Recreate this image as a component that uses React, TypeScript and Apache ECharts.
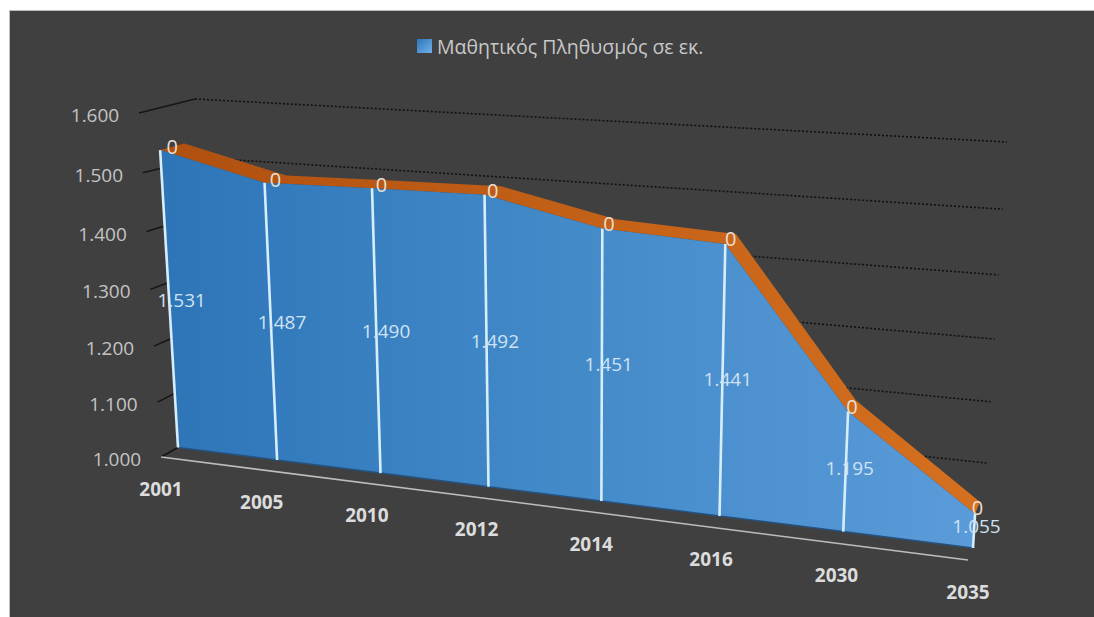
import React, { useEffect, useRef } from "react";
import * as echarts from "echarts";

const years = ["2001", "2005", "2010", "2012", "2014", "2016", "2030", "2035"];
const students = [1531, 1487, 1490, 1492, 1451, 1441, 1195, 1055];
const topSeries = [0, 0, 0, 0, 0, 0, 0, 0];
const yTicks = [1000, 1100, 1200, 1300, 1400, 1500, 1600];
const legendName = "Μαθητικός Πληθυσμός σε εκ.";

const W = 1094;
const H = 617;
const FONT = "'Open Sans', 'Noto Sans', sans-serif";
const GRID = { left: 100, top: 100, width: 800, height: 400 };

type Pt = [number, number];
// corners of each depth plane: bottom-left, bottom-right, top-right, top-left
function homography(q: Pt[]) {
  const [[x0, y0], [x1, y1], [x2, y2], [x3, y3]] = q;
  const dx1 = x1 - x2, dx2 = x3 - x2, sx = x0 - x1 + x2 - x3;
  const dy1 = y1 - y2, dy2 = y3 - y2, sy = y0 - y1 + y2 - y3;
  const den = dx1 * dy2 - dx2 * dy1;
  const g = (sx * dy2 - dx2 * sy) / den;
  const h = (dx1 * sy - sx * dy1) / den;
  const a = x1 - x0 + g * x1, b = x3 - x0 + h * x3;
  const d = y1 - y0 + g * y1, e = y3 - y0 + h * y3;
  return (s: number, t: number): Pt => {
    const w = g * s + h * t + 1;
    return [(a * s + b * t + x0) / w, (d * s + e * t + y0) / w];
  };
}
const frontPlane = homography([[161, 457], [968, 560], [991.5, 161], [139, 113]]);
const areaPlane = homography([[178, 447.5], [973, 548], [996.6, 155], [157.7, 109.5]]);
const bandPlane = homography([[203.6, 440], [978, 536], [1001.6, 143], [181.7, 103]]);
const backPlane = homography([[221, 434], [983, 523], [1007, 142], [195, 99]]);

const toUnit = (p: number[]): Pt => [
  (p[0] - GRID.left) / GRID.width,
  (GRID.top + GRID.height - p[1]) / GRID.height,
];

const seg = (a: Pt, b: Pt, stroke: string, lineWidth: number, lineDash?: number[]) => ({
  type: "line",
  shape: { x1: a[0], y1: a[1], x2: b[0], y2: b[1] },
  style: { stroke, lineWidth, lineDash },
});
const label = (p: Pt, text: string, fill: string, fontWeight = "normal", fontSize = 19) => ({
  type: "text",
  style: {
    x: p[0], y: p[1], text, fill, fontFamily: FONT, fontSize, fontWeight, lineHeight: 16,
    align: "center", verticalAlign: "middle",
  },
});
const mid = (a: Pt, b: Pt, dy: number): Pt => [(a[0] + b[0]) / 2, (a[1] + b[1]) / 2 + dy];

function renderGrid(_: any, api: any) {
  const v = api.value(1);
  const [, t] = toUnit(api.coord([0, v]));
  const [, tr] = toUnit(api.coord([years.length - 1, v]));
  const front = frontPlane(0, t);
  const children: any[] = [];
  if (v !== yTicks[0]) children.push(seg(backPlane(0, t), backPlane(1, tr), "#111111", 1.6, [2, 2]));
  children.push(seg(front, v === yTicks[yTicks.length - 1] ? backPlane(0, t) : areaPlane(0, t), "#151515", 1.5));
  children.push(label([front[0] - 44, front[1] + 2], (v / 1000).toFixed(3), "#C4C4C4"));
  return { type: "group", children };
}

function renderMain(params: any, api: any) {
  const i = params.dataIndex;
  const value = api.value(1);
  const children: any[] = [];
  const unit = (k: number, val: number) => toUnit(api.coord([k, val]));
  const base = yTicks[0];

  if (i === 0) {
    const lower = students.map((val, k) => { const u = unit(k, val); return areaPlane(u[0], u[1]); });
    const upper = students.map((val, k) => { const u = unit(k, val); return bandPlane(u[0], u[1]); });
    const bottom = students.map((_, k) => { const u = unit(k, base); return areaPlane(u[0], u[1]); });
    children.push({
      type: "polygon",
      shape: { points: [...lower, ...upper.slice().reverse()] },
      style: {
        fill: new echarts.graphic.LinearGradient(160, 0, 980, 0, [
          { offset: 0, color: "#B0500F" },
          { offset: 1, color: "#D5701F" },
        ], true),
      },
    });
    children.push({
      type: "polygon",
      shape: { points: [...lower, ...bottom.slice().reverse()] },
      style: {
        fill: new echarts.graphic.LinearGradient(160, 0, 980, 0, [
          { offset: 0, color: "#2E75B8" },
          { offset: 0.5, color: "#438AC9" },
          { offset: 1, color: "#5B9BD9" },
        ], true),
      },
    });
    children.push({
      type: "polyline",
      shape: { points: bottom },
      style: { stroke: "#25527F", lineWidth: 1.5, fill: "none" },
    });
    const a = toUnit(api.coord([0, base]));
    const b = toUnit(api.coord([years.length - 1, base]));
    children.push(seg(frontPlane(a[0], a[1]), frontPlane(b[0], b[1]), "#BDBDBD", 1.5));
  }

  const top = unit(i, value);
  const bot = unit(i, base);
  const half = unit(i, (value + base) / 2);
  children.push(seg(areaPlane(bot[0], bot[1]), areaPlane(top[0], top[1]), "#D6EEFB", 2.6));
  children.push(label(mid(areaPlane(top[0], top[1]), bandPlane(top[0], top[1]), 0), String(topSeries[i]), "#EADFD3", "normal", 20));
  children.push(label(
    mid(areaPlane(half[0], half[1]), bandPlane(half[0], half[1]), 1),
    (value / 1000).toFixed(3),
    "#CFE2F3",
  ));
  const f = frontPlane(bot[0], bot[1]);
  children.push(label([f[0], f[1] + 32], years[i], "#DCDCDC", "bold"));
  return { type: "group", children };
}

export default function App() {
  const ref = useRef<HTMLDivElement>(null);
  useEffect(() => {
    document.body.style.margin = "0";
    const chart = echarts.init(ref.current!, undefined, { renderer: "svg" });
    chart.setOption({
      animation: false,
      backgroundColor: "#ffffff",
      graphic: [{
        type: "rect",
        z: -1,
        silent: true,
        shape: { x: 9.5, y: 10.5, width: W, height: H },
        style: { fill: "#404040", stroke: "#BDBDBD", lineWidth: 1 },
      }],
      legend: {
        left: 412,
        top: 31,
        itemWidth: 15,
        itemHeight: 14,
        itemGap: 5,
        selectedMode: false,
        data: [{
          name: legendName,
          icon: "rect",
          itemStyle: {
            color: new echarts.graphic.LinearGradient(0, 0, 1, 1, [
              { offset: 0, color: "#2E75B8" },
              { offset: 1, color: "#6FB0EA" },
            ]),
          },
        }],
        textStyle: { color: "#C8C8C8", fontFamily: FONT, fontSize: 19.5 },
      },
      grid: { ...GRID, containLabel: false },
      xAxis: { type: "category", show: false, boundaryGap: false, data: years },
      yAxis: { type: "value", show: false, min: 1000, max: 1600, interval: 100 },
      series: [
        {
          name: "grid",
          type: "custom",
          silent: true,
          z: 1,
          renderItem: renderGrid,
          encode: { x: 0, y: 1 },
          data: yTicks.map((t) => [0, t]),
        },
        {
          name: legendName,
          type: "custom",
          silent: true,
          z: 2,
          renderItem: renderMain,
          encode: { x: 0, y: 1 },
          data: students.map((v, i) => [i, v]),
        },
      ],
    });
    return () => chart.dispose();
  }, []);
  return <div ref={ref} style={{ position: "fixed", left: 0, top: 0, width: W, height: H }} />;
}
